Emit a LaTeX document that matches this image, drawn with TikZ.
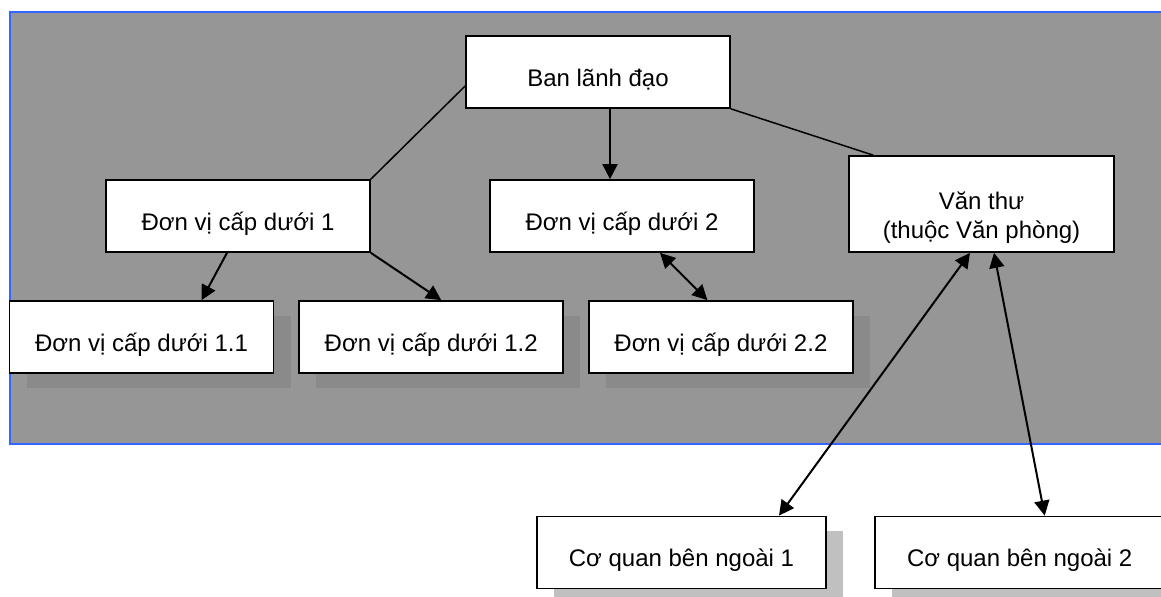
\documentclass[tikz,border=0pt]{standalone}
\usepackage{fontspec}
\setmainfont{Liberation Sans}
\usetikzlibrary{arrows.meta, positioning, shadows}
\definecolor{bggray}{RGB}{150,150,150}
\definecolor{frameblue}{RGB}{51,102,255}
\definecolor{darkshade}{RGB}{138,138,138}
\definecolor{lightshade}{RGB}{192,192,192}

\begin{document}
\begin{tikzpicture}[
  x=0.5pt, y=-0.5pt,
  org/.style={rectangle, draw, fill=white, line width=0.85pt, minimum width=132pt,
              minimum height=36pt, align=center, inner sep=0pt,
              font=\fontsize{12}{14.5}\selectfont},
  one/.style={text height=14.5pt, text depth=0pt},
  sub/.style={org, one, drop shadow={shadow xshift=8.5pt, shadow yshift=-7.5pt,
              fill=darkshade, opacity=1}},
  ext/.style={org, one, minimum width=144.5pt, drop shadow={shadow xshift=8.5pt,
              shadow yshift=-7.5pt, fill=lightshade, opacity=1}},
  a/.style={-{Triangle[length=7.5pt, width=7.5pt]}, line width=1pt},
  ab/.style={{Triangle[length=7.5pt, width=7.5pt]}-{Triangle[length=7.5pt, width=7.5pt]},
             line width=1pt},
  ln/.style={line width=0.75pt},
  node distance=12pt,
]
  \useasboundingbox (0,0) rectangle (1161,597);
  \fill[bggray] (10,12) rectangle (1180,444);
  \draw[frameblue, line width=0.75pt] (1180,12) -- (10,12) -- (10,444) -- (1180,444);

  \node[org, one] (ban) at (598,72)  {Ban lãnh đạo};
  \node[org, one] (dv1) at (238,216) {Đơn vị cấp dưới 1};
  \node[org, one] (dv2) at (622,216) {Đơn vị cấp dưới 2};
  \node[org, minimum width=132.5pt, minimum height=48pt] (vt) at (981.5,204)
       {\rule{0pt}{22pt}Văn thư\\(thuộc Văn phòng)};

  \node[sub] (dv11) at (141.5,337) {Đơn vị cấp dưới 1.1};
  \node[sub, right=of dv11] (dv12) {Đơn vị cấp dưới 1.2};
  \node[sub, right=of dv12] (dv22) {Đơn vị cấp dưới 2.2};

  \node[ext] (cq1) at (681.5,552.5) {Cơ quan bên ngoài 1};
  \node[ext, minimum width=145pt, right=23.5pt of cq1] (cq2) {Cơ quan bên ngoài 2};

  \draw[ln] ([yshift=-7pt]ban.west) -- (dv1.north east);
  \draw[ln] (ban.south east) -- ([xshift=12.5pt]vt.north west);
  \draw[a] ([xshift=6pt]ban.south) -- ([xshift=-6pt]dv2.north);

  \draw[a] ([xshift=-5.5pt]dv1.south) -- ([xshift=30pt]dv11.north);
  \draw[a] (dv1.south east) -- ([xshift=5pt]dv12.north);
  \draw[ab] ([xshift=19pt]dv2.south) -- ([xshift=-6.75pt]dv22.north);

  \draw[ab] ([xshift=-5.75pt]vt.south) -- ([xshift=48.75pt]cq1.north);
  \draw[ab] ([xshift=6.25pt]vt.south) -- ([xshift=12.5pt]cq2.north);
\end{tikzpicture}
\end{document}
